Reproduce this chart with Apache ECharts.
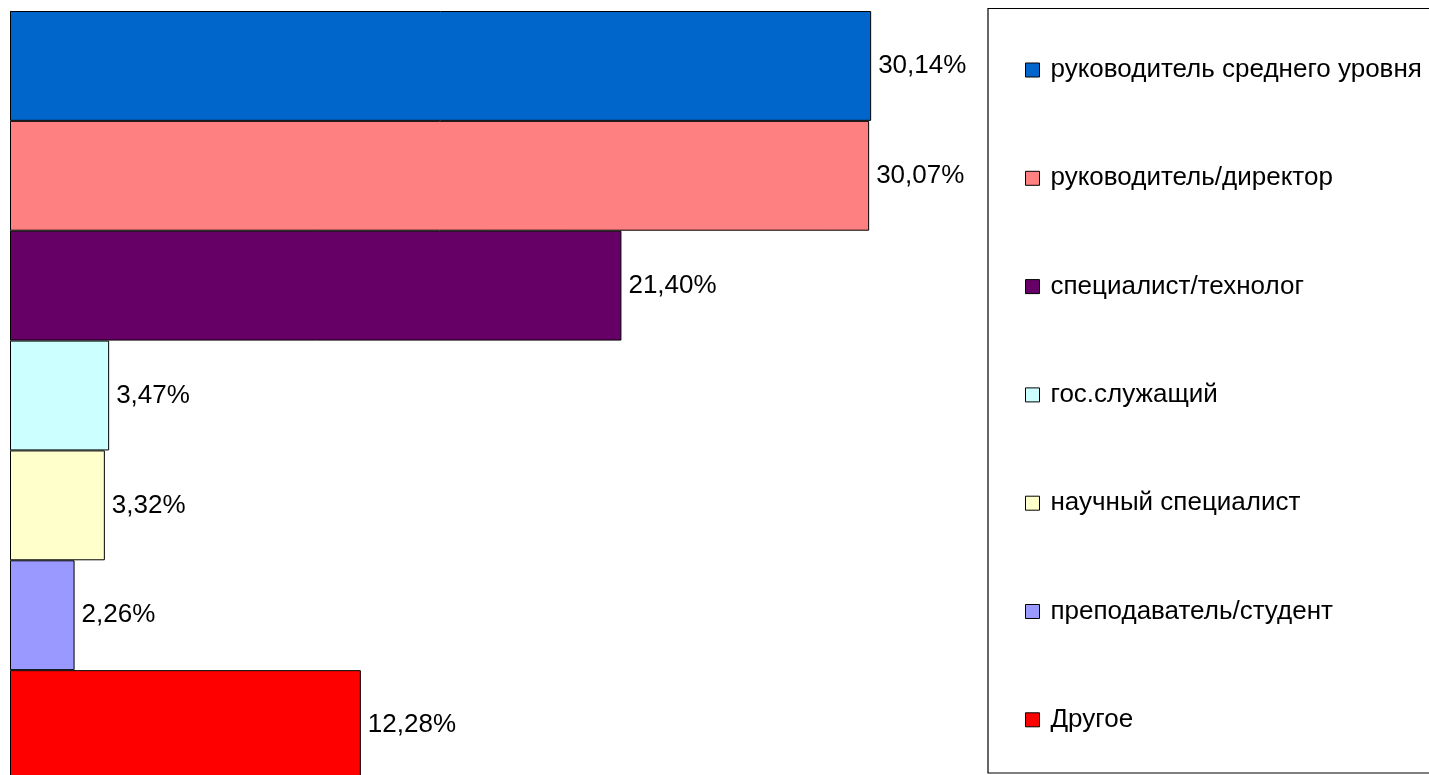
<!DOCTYPE html>
<html>
<head>
<meta charset="utf-8">
<script src="https://cdn.jsdelivr.net/npm/echarts@6/dist/echarts.min.js"></script>
<style>
html,body{margin:0;padding:0;background:#fff;overflow:hidden;}
#chart{width:1429px;height:775px;}
</style>
</head>
<body>
<div id="chart"></div>
<script>
const categories = ['руководитель среднего уровня','руководитель/директор','специалист/технолог','гос.служащий','научный специалист','преподаватель/студент','Другое'];
const values = [30.14, 30.07, 21.40, 3.47, 3.32, 2.26, 12.28];
const colors = ['#0066CC','#FF8080','#660066','#CCFFFF','#FFFFCC','#9999FF','#FF0000'];

const series = categories.map((name, i) => ({
  name: name,
  type: 'bar',
  stack: 'all',
  barWidth: '100%',
  itemStyle: { color: colors[i], borderColor: '#000', borderWidth: 1 },
  label: {
    show: true,
    position: 'right',
    distance: 7,
    color: '#000',
    fontFamily: 'Liberation Sans, Arial, sans-serif',
    fontSize: 26,
    formatter: p => p.value.toFixed(2).replace('.', ',') + '%'
  },
  data: categories.map((c, j) => j === i ? values[i] : '-')
}));

const chart = echarts.init(document.getElementById('chart'), null, {renderer: 'canvas', height: 800});
chart.setOption({
  animation: false,
  backgroundColor: '#fff',
  color: colors,
  grid: { left: 10, top: 11, width: 1000, height: 769, containLabel: false },
  xAxis: { type: 'value', min: 0, max: 35, show: false },
  yAxis: {
    type: 'category', data: categories, inverse: true,
    axisLine: { show: true, lineStyle: { color: '#aaa', width: 1 } },
    axisTick: { show: false }, axisLabel: { show: false }
  },
  graphic: [{
    type: 'rect', z: 0,
    shape: { x: 988, y: 8.5, width: 460, height: 764.5 },
    style: { fill: '#fff', stroke: '#000', lineWidth: 1.2 }
  }],
  legend: {
    orient: 'vertical',
    left: 1020,
    top: 52,
    z: 10,
    itemWidth: 14,
    itemHeight: 14,
    itemGap: 82.3,
    icon: 'rect',
    itemStyle: { borderColor: '#000', borderWidth: 1 },
    textStyle: {
      color: '#000',
      fontFamily: 'Liberation Sans, Arial, sans-serif',
      fontSize: 26,
      lineHeight: 26,
      padding: [0, 0, 0, 6]
    },
    data: categories
  },
  series: series
});
</script>
</body>
</html>
